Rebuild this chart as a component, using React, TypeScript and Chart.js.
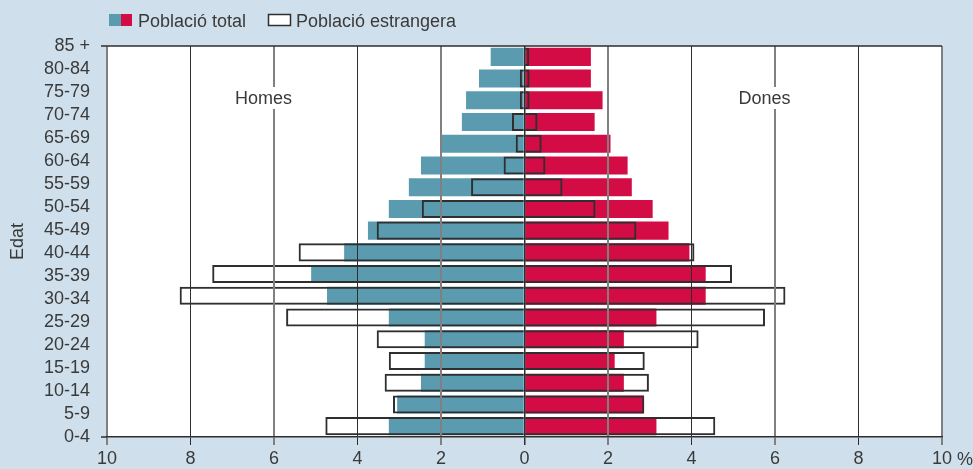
import { useEffect, useRef } from 'react';
import { Chart, registerables } from 'chart.js';

Chart.register(...registerables);

// Age groups, top to bottom
const ageGroups = [
  '85 +', '80-84', '75-79', '70-74', '65-69', '60-64', '55-59', '50-54', '45-49',
  '40-44', '35-39', '30-34', '25-29', '20-24', '15-19', '10-14', '5-9', '0-4',
];

// Percent of population (Població total)
const menTotal = [0.81, 1.09, 1.40, 1.50, 1.98, 2.48, 2.77, 3.25, 3.75, 4.32, 5.11, 4.73, 3.25, 2.39, 2.39, 2.48, 3.05, 3.25];
const womenTotal = [1.59, 1.59, 1.87, 1.68, 2.06, 2.47, 2.57, 3.07, 3.45, 3.95, 4.34, 4.34, 3.16, 2.38, 2.16, 2.38, 2.86, 3.16];

// Percent of population (Població estrangera)
const menForeign = [0, 0.11, 0.11, 0.30, 0.21, 0.50, 1.28, 2.46, 3.54, 5.41, 7.48, 8.26, 5.71, 3.54, 3.25, 3.35, 3.15, 4.77];
const womenForeign = [0.11, 0.12, 0.12, 0.31, 0.41, 0.50, 0.91, 1.70, 2.68, 4.07, 4.97, 6.25, 5.76, 4.17, 2.88, 2.98, 2.87, 4.57];

const legendLabels = ['Població total', 'Població estrangera'];
const sideLabels = ['Homes', 'Dones'];
const axisTitle = 'Edat';
const unitLabel = '%';

const FONT = "'Liberation Sans', Arial, Helvetica, sans-serif";
const TEXT = '#3a3a3a';
const BG = '#cfe0ec';
const TEAL = '#5a9bb0';
const CRIMSON = '#d30c45';
const DARK = '#2e2e2e';
const GRAY = '#808080';
const OUTLINE = '#2f2f2f';

const isGray = (v: number) => Math.abs(v) % 4 === 2;

export default function App() {
  const ref = useRef<HTMLCanvasElement>(null);

  useEffect(() => {
    document.body.style.margin = '0';
    const canvas = ref.current!;

    const decor = {
      id: 'decor',
      beforeDraw(chart: any) {
        const { ctx, chartArea: a } = chart;
        ctx.save();
        ctx.fillStyle = BG;
        ctx.fillRect(0, 0, chart.width, chart.height);
        ctx.fillStyle = '#ffffff';
        ctx.fillRect(a.left, a.top, a.right - a.left, a.bottom - a.top);
        ctx.restore();
      },
      afterDraw(chart: any) {
        const { ctx, chartArea: a } = chart;
        const xs = chart.scales.x;
        ctx.save();
        // frame: top line and left extensions
        ctx.strokeStyle = DARK;
        ctx.lineWidth = 1.5;
        ctx.beginPath();
        ctx.moveTo(101, a.top);
        ctx.lineTo(a.right, a.top);
        ctx.moveTo(101, a.bottom);
        ctx.lineTo(a.left, a.bottom);
        ctx.stroke();

        // Homes / Dones labels with white background
        ctx.font = `18px ${FONT}`;
        ctx.textAlign = 'center';
        ctx.textBaseline = 'alphabetic';
        const ly = a.top + 58;
        const pos = [xs.getPixelForValue(-6.25), xs.getPixelForValue(5.75)];
        sideLabels.forEach((t, i) => {
          const w = ctx.measureText(t).width;
          ctx.fillStyle = '#ffffff';
          ctx.fillRect(pos[i] - w / 2 - 3, ly - 17, w + 6, 22);
          ctx.fillStyle = TEXT;
          ctx.fillText(t, pos[i], ly);
        });

        // percent unit
        ctx.textAlign = 'left';
        ctx.fillStyle = TEXT;
        ctx.fillText(unitLabel, 957, 465);

        // legend
        ctx.fillStyle = TEAL;
        ctx.fillRect(109, 14, 12, 12);
        ctx.fillStyle = CRIMSON;
        ctx.fillRect(121, 14, 11, 12);
        ctx.fillStyle = TEXT;
        ctx.fillText(legendLabels[0], 138, 27);
        ctx.fillStyle = '#ffffff';
        ctx.fillRect(268.5, 14.5, 22, 11);
        ctx.strokeStyle = OUTLINE;
        ctx.lineWidth = 1.5;
        ctx.strokeRect(268.5, 14.5, 22, 11);
        ctx.fillStyle = TEXT;
        ctx.fillText(legendLabels[1], 296, 27);
        ctx.restore();
      },
    };

    const barCommon = {
      xAxisID: 'x',
      yAxisID: 'y',
      grouped: false,
      barPercentage: 0.83,
      categoryPercentage: 1,
    };

    const chart = new Chart(canvas, {
      type: 'bar',
      data: {
        labels: ageGroups,
        datasets: [
          { ...barCommon, label: 'Homes total', data: menTotal.map((v) => -v), backgroundColor: TEAL, borderWidth: 0, order: 2 },
          { ...barCommon, label: 'Dones total', data: womenTotal, backgroundColor: CRIMSON, borderWidth: 0, order: 2 },
          {
            ...barCommon, label: 'Homes estrangers', data: menForeign.map((v) => -v),
            backgroundColor: 'rgba(0,0,0,0)', borderColor: OUTLINE, borderWidth: 2, borderSkipped: 'start', order: 1,
          },
          {
            ...barCommon, label: 'Dones estrangeres', data: womenForeign,
            backgroundColor: 'rgba(0,0,0,0)', borderColor: OUTLINE, borderWidth: 2, borderSkipped: 'start', order: 1,
          },
        ] as any,
      },
      options: {
        indexAxis: 'y',
        animation: false,
        responsive: false,
        devicePixelRatio: 1,
        layout: { padding: { top: 46, right: 31, left: 0, bottom: 0 } },
        plugins: {
          legend: { display: false },
          tooltip: { enabled: false },
        },
        scales: {
          y: {
            type: 'category',
            display: false,
            offset: true,
            grid: { display: false },
          },
          yl: {
            type: 'linear',
            axis: 'y',
            position: 'left',
            offset: false,
            min: 0,
            max: ageGroups.length - 1,
            afterBuildTicks: (s: any) => {
              s.ticks = ageGroups.map((_, i) => ({ value: i }));
            },
            afterFit: (s: any) => {
              s.width = 107;
            },
            ticks: {
              autoSkip: false,
              padding: 17,
              color: TEXT,
              font: { family: FONT, size: 18 },
              callback: (v: any) => ageGroups[ageGroups.length - 1 - Number(v)],
            },
            grid: { display: false, drawTicks: false, offset: false },
            border: { display: false },
            title: {
              display: true,
              text: axisTitle,
              color: TEXT,
              font: { family: FONT, size: 18 },
              padding: { top: 7, bottom: 0 },
            },
          },
          x: {
            type: 'linear',
            position: 'bottom',
            min: -10,
            max: 10,
            afterFit: (s: any) => {
              s.height = 32;
            },
            ticks: {
              stepSize: 2,
              autoSkip: false,
              maxRotation: 0,
              padding: 3,
              color: TEXT,
              font: { family: FONT, size: 18 },
              callback: (v: any) => String(Math.abs(Number(v))),
            },
            grid: {
              z: 1,
              color: (c: any) => (c.tick && isGray(c.tick.value) ? GRAY : DARK),
              lineWidth: (c: any) => (c.tick && isGray(c.tick.value) ? 2 : c.tick && c.tick.value === 0 ? 1.5 : 1),
              tickColor: (c: any) => (c.tick && isGray(c.tick.value) ? GRAY : DARK),
              tickLength: 8,
            },
            border: { display: true, color: DARK, width: 1.5, z: 1 },
          },
        },
      } as any,
      plugins: [decor],
    });

    return () => chart.destroy();
  }, []);

  return <canvas ref={ref} width={973} height={469} style={{ display: 'block', width: 973, height: 469 }} />;
}
